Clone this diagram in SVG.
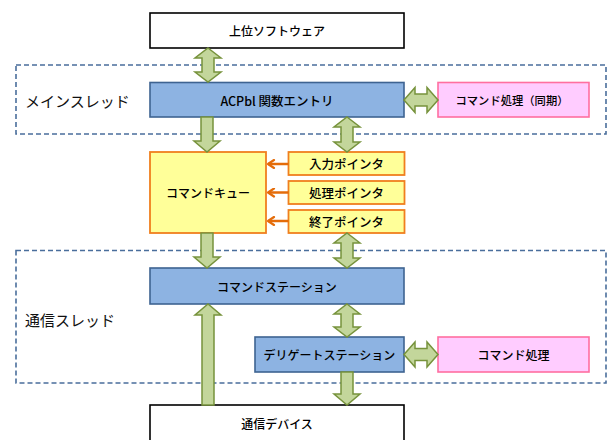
<svg xmlns="http://www.w3.org/2000/svg" width="608" height="440" viewBox="0 0 608 440">
  <defs>
    <marker id="chev" viewBox="0 0 10 10" refX="8" refY="5" markerWidth="4" markerHeight="4" orient="auto" markerUnits="strokeWidth">
      <path d="M2,1 L8,5 L2,9" fill="none" stroke="#E46C0A" stroke-width="2.2" stroke-linecap="round" stroke-linejoin="round"/>
    </marker>
  </defs>
  <style>
    text { font-family: "Noto Sans CJK JP", "Noto Sans", sans-serif; fill: #000; dominant-baseline: central; font-weight: 500; }
    .c { text-anchor: middle; font-size: 12px; }
    .thread { font-size: 15px; font-weight: 400; fill: #111; }
    .white { fill: #FFFFFF; stroke: #000000; stroke-width: 1.6; }
    .blue { fill: #8DB3E2; stroke: #3E6391; stroke-width: 1.6; }
    .pink { fill: #FFCCFF; stroke: #FF6FA0; stroke-width: 1.6; }
    .yellow { fill: #FFFF99; stroke: #F07F1E; stroke-width: 1.8; }
    .zone { fill: none; stroke: #4A6E9C; stroke-width: 1.6; stroke-dasharray: 5 3; }
    .fat { fill: #C3D69B; stroke: #77933C; stroke-width: 1.5; stroke-linejoin: miter; }
    .ptr { fill: none; stroke: #E46C0A; stroke-width: 2.5; marker-end: url(#chev); }
  </style>

  <!-- thread boundaries -->
  <g id="main-thread">
    <rect class="zone" x="16" y="65" width="590" height="69"/>
    <text class="thread" x="25" y="100">メインスレッド</text>
  </g>
  <g id="comm-thread">
    <rect class="zone" x="16" y="250.5" width="590" height="132.5"/>
    <text class="thread" x="25" y="319">通信スレッド</text>
  </g>

  <!-- nodes -->
  <g id="upper-software">
    <rect class="white" x="150" y="13" width="254" height="35"/>
    <text class="c" x="277" y="30.5">上位ソフトウェア</text>
  </g>
  <g id="acpbl-entry">
    <rect class="blue" x="150" y="82.5" width="254" height="34.5"/>
    <text class="c" x="277" y="100" style="font-size:12.5px">ACPbl 関数エントリ</text>
  </g>
  <g id="sync-command">
    <rect class="pink" x="438" y="82.5" width="151" height="34.5"/>
    <text class="c" x="512" y="100" style="font-size:11.3px">コマンド処理（同期）</text>
  </g>
  <g id="command-queue">
    <rect class="yellow" x="150" y="152" width="116" height="81"/>
    <text class="c" x="208" y="192.5">コマンドキュー</text>
  </g>
  <g id="input-pointer">
    <rect class="yellow" x="288.5" y="152" width="116" height="23"/>
    <text class="c" x="346.5" y="163.5" style="font-size:12.5px">入力ポインタ</text>
  </g>
  <g id="process-pointer">
    <rect class="yellow" x="288.5" y="181" width="116" height="23"/>
    <text class="c" x="346.5" y="192.5" style="font-size:12.5px">処理ポインタ</text>
  </g>
  <g id="end-pointer">
    <rect class="yellow" x="288.5" y="210" width="116" height="23"/>
    <text class="c" x="346.5" y="221.5" style="font-size:12.5px">終了ポインタ</text>
  </g>
  <g id="command-station">
    <rect class="blue" x="150" y="268" width="254" height="36"/>
    <text class="c" x="277" y="286">コマンドステーション</text>
  </g>
  <g id="delegate-station">
    <rect class="blue" x="255" y="337" width="149" height="35"/>
    <text class="c" x="329.5" y="354.5">デリゲートステーション</text>
  </g>
  <g id="async-command">
    <rect class="pink" x="438" y="337" width="151" height="35"/>
    <text class="c" x="513.5" y="354.5">コマンド処理</text>
  </g>
  <g id="comm-device">
    <rect class="white" x="150" y="405" width="254" height="40"/>
    <text class="c" x="277" y="423">通信デバイス</text>
  </g>

  <!-- connectors -->
  <g id="connectors">
    <!-- upper software <-> ACPbl -->
    <path class="fat" d="M208,48 L221,58 L214,58 L214,72 L221,72 L208,82 L195,72 L202,72 L202,58 L195,58 Z"/>
    <!-- ACPbl <-> sync command -->
    <path class="fat" d="M404,100 L415,87.5 L415,94 L427,94 L427,87.5 L438,100 L427,112.5 L427,106 L415,106 L415,112.5 Z"/>
    <!-- ACPbl -> command queue -->
    <path class="fat" d="M201,117 L213,117 L213,141 L220,141 L207,152 L194,141 L201,141 Z"/>
    <!-- ACPbl <-> input pointer -->
    <path class="fat" d="M347,117 L360,127 L353,127 L353,142 L360,142 L347,152 L334,142 L341,142 L341,127 L334,127 Z"/>
    <!-- pointers -> command queue -->
    <line class="ptr" x1="288.5" y1="164" x2="268" y2="164"/>
    <line class="ptr" x1="288.5" y1="192.5" x2="268" y2="192.5"/>
    <line class="ptr" x1="288.5" y1="221" x2="268" y2="221"/>
    <!-- command queue -> command station -->
    <path class="fat" d="M201,233 L213,233 L213,257 L220,257 L207,268 L194,257 L201,257 Z"/>
    <!-- end pointer <-> command station -->
    <path class="fat" d="M347,233 L360,243 L353,243 L353,258 L360,258 L347,268 L334,258 L341,258 L341,243 L334,243 Z"/>
    <!-- command station <-> delegate station -->
    <path class="fat" d="M347,304 L360,314 L353,314 L353,327 L360,327 L347,337 L334,327 L341,327 L341,314 L334,314 Z"/>
    <!-- delegate station <-> command processing -->
    <path class="fat" d="M404,354.5 L415,342 L415,348.5 L427,348.5 L427,342 L438,354.5 L427,367 L427,360.5 L415,360.5 L415,367 Z"/>
    <!-- delegate station -> comm device -->
    <path class="fat" d="M341,372 L353,372 L353,394 L360,394 L347,405 L334,394 L341,394 Z"/>
    <!-- comm device -> command station -->
    <path class="fat" d="M202,405 L202,315 L195,315 L208,304 L221,315 L214,315 L214,405 Z"/>
  </g>
</svg>
